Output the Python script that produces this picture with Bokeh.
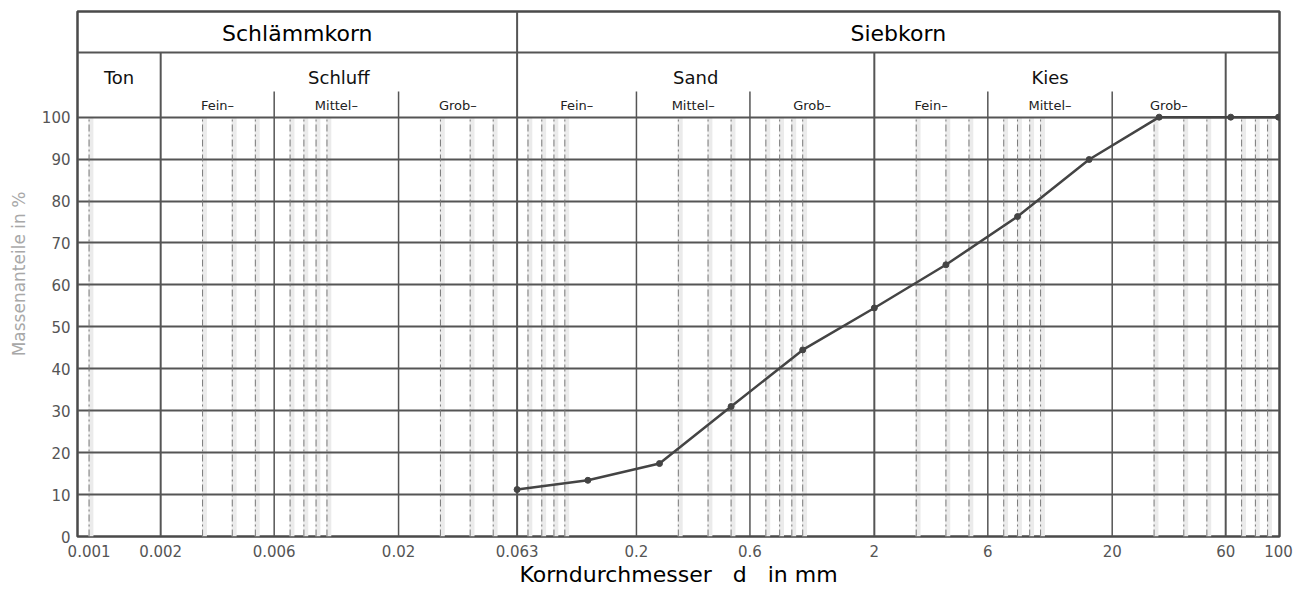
from bokeh.plotting import figure
from bokeh.models import FixedTicker, Range1d, CustomJSTickFormatter
from bokeh.core.properties import value
from bokeh.embed import file_html
from bokeh.resources import INLINE

# ---- data ----
grain_size_mm = [0.063, 0.125, 0.25, 0.5, 1.0, 2.0, 4.0, 8.0, 16.0, 31.5, 63.0, 100.0]
passing_pct = [11.2, 13.4, 17.4, 31.0, 44.5, 54.5, 64.8, 76.3, 89.9, 100.0, 100.0, 100.0]

x_tick_values = [0.001, 0.002, 0.006, 0.02, 0.063, 0.2, 0.6, 2, 6, 20, 60, 100]
y_tick_values = [0, 10, 20, 30, 40, 50, 60, 70, 80, 90, 100]

# class boundaries (mm)
main_groups = ["Schlämmkorn", "Siebkorn"]
main_bounds = [0.000894, 0.063, 101]
soil_types = ["Ton", "Schluff", "Sand", "Kies"]
soil_bounds = [0.000894, 0.002, 0.063, 2, 60]
sub_labels = ["Fein–", "Mittel–", "Grob–"]
sub_bounds_schluff = [0.002, 0.006, 0.02, 0.063]
sub_bounds_sand = [0.063, 0.2, 0.6, 2]
sub_bounds_kies = [2, 6, 20, 60]

FONT = "DejaVu Sans"
GRID = "#555555"

Y_TOP = 125.2
Y_ROW1 = 115.4
Y_ROW2 = 106.1

p = figure(width=1300, height=590, x_axis_type="log",
           x_range=Range1d(main_bounds[0], main_bounds[-1]),
           y_range=Range1d(0, Y_TOP),
           output_backend="svg", toolbar_location=None,
           min_border_left=77, min_border_right=21,
           min_border_top=11, min_border_bottom=54)
p.background_fill_color = "white"
p.border_fill_color = "white"
p.outline_line_color = "#4a4a4a"
p.outline_line_width = 2.5

p.xgrid.visible = False
p.ygrid.ticker = FixedTicker(ticks=y_tick_values)
p.ygrid.grid_line_color = GRID
p.ygrid.grid_line_width = 2

# minor dash-dot lines (log paper)
minor_x = []
for e in range(-3, 2):
    for m in [1, 3, 4, 5, 7, 8, 9]:
        v = m * 10.0 ** e
        if v <= 100:
            minor_x.append(v)
ghost_x = [v * 1.018 for v in minor_x]
p.segment(x0=ghost_x, y0=[0] * len(ghost_x), x1=ghost_x, y1=[100] * len(ghost_x),
          line_color="#ebebeb", line_width=5, level="underlay")
p.segment(x0=minor_x, y0=[0] * len(minor_x), x1=minor_x, y1=[100] * len(minor_x),
          line_color="#7a7a7a", line_width=1, line_dash="7 3 2 3")

# major vertical lines with header extents
full = [0.063]
mid = [0.002, 2, 60]
low = [0.006, 0.02, 0.2, 0.6, 6, 20]
p.segment(x0=full, y0=[0], x1=full, y1=[Y_TOP], line_color=GRID, line_width=2)
p.segment(x0=mid, y0=[0] * 3, x1=mid, y1=[Y_ROW1] * 3, line_color=GRID, line_width=2)
p.segment(x0=low, y0=[0] * 6, x1=low, y1=[Y_ROW2] * 6, line_color=GRID, line_width=1.5)
# header row divider
p.segment(x0=[main_bounds[0]], y0=[Y_ROW1], x1=[main_bounds[-1]], y1=[Y_ROW1],
          line_color=GRID, line_width=2)


def gmean(a, b):
    return (a * b) ** 0.5


# header texts
p.text(x=[gmean(main_bounds[i], main_bounds[i + 1]) for i in range(2)],
       y=[119.9, 119.9], text=main_groups, text_align="center", text_baseline="middle",
       text_font=value(FONT), text_font_size="22px", text_color="black")
p.text(x=[gmean(soil_bounds[i], soil_bounds[i + 1]) for i in range(4)],
       y=[109.5] * 4, text=soil_types, text_align="center", text_baseline="middle",
       text_font=value(FONT), text_font_size="18px", text_color="#111111")
sx, st = [], []
for b in (sub_bounds_schluff, sub_bounds_sand, sub_bounds_kies):
    for i in range(3):
        sx.append(gmean(b[i], b[i + 1]))
        st.append(sub_labels[i])
p.text(x=sx, y=[102.7] * len(sx), text=st, text_align="center", text_baseline="middle",
       text_font=value(FONT), text_font_size="13px", text_color="#222222")

# grading curve
p.line(grain_size_mm, passing_pct, line_color="#444444", line_width=2.5)
p.scatter(grain_size_mm, passing_pct, size=6, color="#444444")

# axes
for ax in (p.xaxis, p.yaxis):
    ax.minor_tick_line_color = None
    ax.major_tick_line_color = None
    ax.major_tick_out = 0
    ax.major_tick_in = 0
    ax.minor_tick_out = 0
    ax.minor_tick_in = 0
    ax.axis_line_color = None
    ax.major_label_text_font = FONT
    ax.major_label_text_font_size = "15px"
    ax.major_label_text_color = "#555555"
    ax.axis_label_text_font = FONT
    ax.axis_label_text_font_style = "normal"

p.xaxis.ticker = FixedTicker(ticks=x_tick_values)
p.xaxis.formatter = CustomJSTickFormatter(code="return tick.toString();")
p.xaxis.major_label_standoff = 8
p.xaxis.axis_label = "Korndurchmesser\u00a0\u00a0\u00a0d\u00a0\u00a0\u00a0in\u00a0mm"
p.xaxis.axis_label_text_font_size = "22px"
p.xaxis.axis_label_text_color = "black"
p.xaxis.axis_label_standoff = 2

p.yaxis.ticker = FixedTicker(ticks=y_tick_values)
p.yaxis.major_label_standoff = 7
p.yaxis.axis_label = "Massenanteile in %"
p.yaxis.axis_label_text_font_size = "17px"
p.yaxis.axis_label_text_color = "#a8a8a8"
p.yaxis.axis_label_standoff = 10

open("out.html", "w").write(file_html(p, INLINE))
